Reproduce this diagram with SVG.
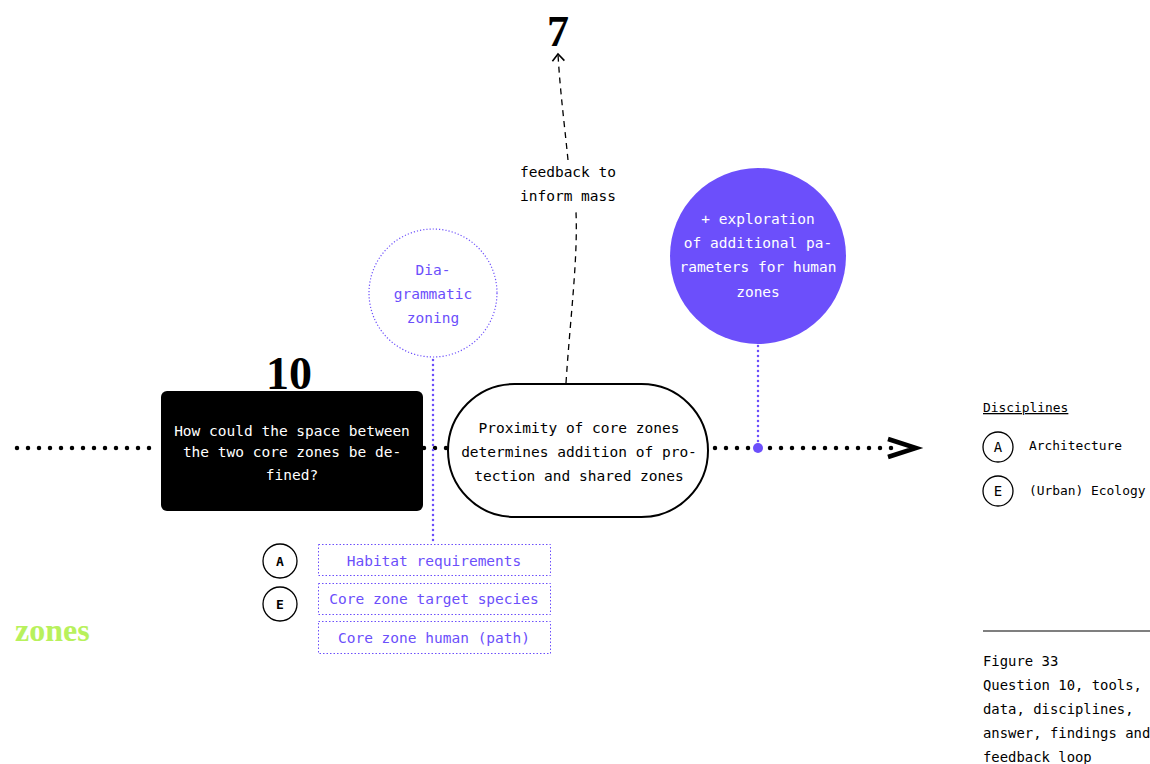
<svg xmlns="http://www.w3.org/2000/svg" width="1150" height="764" viewBox="0 0 1150 764">
<style>
.mono{font-family:"DejaVu Sans Mono","Liberation Mono",monospace;font-size:14.5px}
.cap{font-family:"DejaVu Sans Mono","Liberation Mono",monospace;font-size:13.9px}
.leg{font-family:"DejaVu Sans Mono","Liberation Mono",monospace;font-size:12.9px}
.num{font-family:"Liberation Serif","DejaVu Serif",serif;font-weight:bold}
.purple{fill:#6c4ffb}
.main{stroke:#000;stroke-width:4.5;stroke-linecap:round;stroke-dasharray:0 11;fill:none}
.pdot{stroke:#6c4ffb;stroke-width:2.5;stroke-linecap:round;stroke-dasharray:0 5;fill:none}
.pbox{fill:none;stroke:#6c4ffb;stroke-width:1;stroke-dasharray:1.5 2}
.disc{fill:#fff;stroke:#000;stroke-width:1.3}
.lt{font-family:"DejaVu Sans Mono","Liberation Mono",monospace;font-size:13px;font-weight:bold;text-anchor:middle}
.ltn{font-family:"DejaVu Sans Mono","Liberation Mono",monospace;font-size:14px;text-anchor:middle}
</style>
<defs>
<marker id="open" markerWidth="16" markerHeight="16" refX="8" refY="8" orient="auto" markerUnits="userSpaceOnUse">
<path d="M1,2 L8,8 L1,14" fill="none" stroke="#000" stroke-width="1.6"/>
</marker>
</defs>
<rect width="1150" height="764" fill="#fff"/>
<g id="connectors">
<line class="main" x1="17" y1="448" x2="160" y2="448"/>
<line class="main" x1="424" y1="448" x2="447" y2="448"/>
<line class="main" x1="715" y1="448" x2="896" y2="448"/>
<path d="M888,439 L916,448 L888,457" fill="none" stroke="#000" stroke-width="4.5" stroke-linejoin="miter"/>
<path d="M566,383 C570,320 578,260 576,212" fill="none" stroke="#000" stroke-width="1.3" stroke-dasharray="6 5"/>
<path d="M568,160 C564,120 560,90 558,54" fill="none" stroke="#000" stroke-width="1.3" stroke-dasharray="6 5" marker-end="url(#open)"/>
<line class="pdot" x1="433" y1="360" x2="433" y2="542"/>
<line class="pdot" x1="758" y1="346" x2="758" y2="444"/>
<circle cx="758" cy="448" r="5" fill="#6c4ffb"/>
</g>
<g id="label-7"><text class="num" x="558" y="46" font-size="44" text-anchor="middle">7</text></g>
<g id="label-10"><text class="num" x="289" y="389" font-size="46" text-anchor="middle">10</text></g>
<g id="feedback-label">
<text class="mono" x="568" y="177" text-anchor="middle">feedback to</text>
<text class="mono" x="568" y="201" text-anchor="middle">inform mass</text>
</g>
<g id="question">
<rect x="161" y="391" width="262" height="120" rx="6" fill="#000"/>
<text class="mono" fill="#fff" text-anchor="middle"><tspan x="292" y="436">How could the space between</tspan><tspan x="292" y="457">the two core zones be de-</tspan><tspan x="292" y="480">fined?</tspan></text>
</g>
<g id="answer">
<rect x="448" y="384" width="260" height="133" rx="66.5" fill="#fff" stroke="#000" stroke-width="2"/>
<text class="mono" fill="#000" text-anchor="middle"><tspan x="579" y="433">Proximity of core zones</tspan><tspan x="579" y="457">determines addition of pro-</tspan><tspan x="579" y="481">tection and shared zones</tspan></text>
</g>
<g id="tool">
<circle cx="433" cy="293" r="64" fill="none" stroke="#6c4ffb" stroke-width="1.2" stroke-dasharray="1.2 2"/>
<text class="mono purple" text-anchor="middle"><tspan x="433" y="275">Dia-</tspan><tspan x="433" y="299">grammatic</tspan><tspan x="433" y="323">zoning</tspan></text>
</g>
<g id="finding">
<circle cx="758" cy="256" r="88" fill="#6c4ffb"/>
<text class="mono" fill="#fff" text-anchor="middle"><tspan x="758" y="224">+ exploration</tspan><tspan x="758" y="248">of additional pa-</tspan><tspan x="758" y="272">rameters for human</tspan><tspan x="758" y="297">zones</tspan></text>
</g>
<g id="data-1"><rect class="pbox" x="318.5" y="544.5" width="232" height="31"/><text class="mono purple" x="434" y="566" text-anchor="middle">Habitat requirements</text></g>
<g id="data-2"><rect class="pbox" x="318.5" y="583.5" width="232" height="31"/><text class="mono purple" x="434" y="604" text-anchor="middle">Core zone target species</text></g>
<g id="data-3"><rect class="pbox" x="318.5" y="621.5" width="232" height="32"/><text class="mono purple" x="434" y="643" text-anchor="middle">Core zone human (path)</text></g>
<g id="disc-A"><circle class="disc" cx="280" cy="561" r="17"/><text class="lt" x="280" y="566">A</text></g>
<g id="disc-E"><circle class="disc" cx="280" cy="604" r="17"/><text class="lt" x="280" y="609">E</text></g>
<g id="zones-label"><text class="num" x="15" y="641" font-size="32" fill="#b8f15c">zones</text></g>
<g id="legend">
<text class="leg" x="983" y="412" text-decoration="underline">Disciplines</text>
<circle class="disc" cx="998" cy="447" r="15"/><text class="ltn" x="998" y="452">A</text>
<text class="leg" x="1029" y="450">Architecture</text>
<circle class="disc" cx="998" cy="491" r="15"/><text class="ltn" x="998" y="496">E</text>
<text class="leg" x="1029" y="495">(Urban) Ecology</text>
</g>
<g id="caption">
<line x1="983" y1="631" x2="1150" y2="631" stroke="#000" stroke-width="1.2"/>
<text class="cap"><tspan x="983" y="666">Figure 33</tspan><tspan x="983" y="690">Question 10, tools,</tspan><tspan x="983" y="714">data, disciplines,</tspan><tspan x="983" y="738">answer, findings and</tspan><tspan x="983" y="762">feedback loop</tspan></text>
</g>
</svg>
